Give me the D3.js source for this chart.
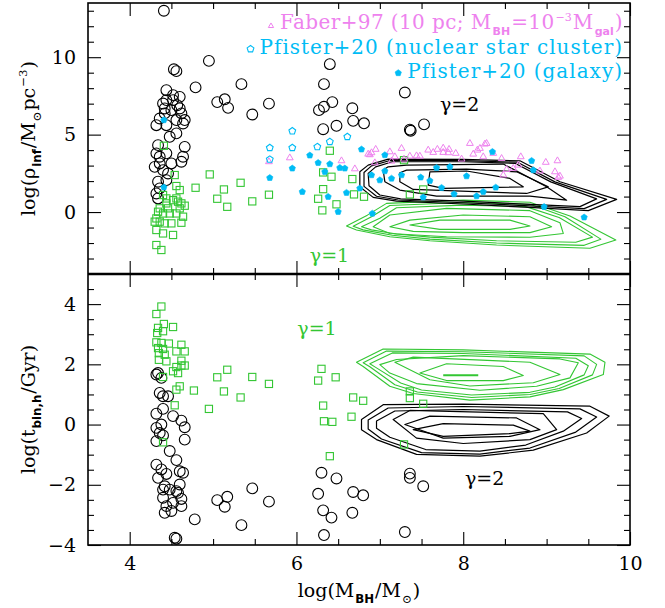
<!DOCTYPE html>
<html><head><meta charset="utf-8">
<script src="https://cdn.jsdelivr.net/npm/d3@7"></script>
<style>body{margin:0;background:#fff} svg{display:block} text{font-family:"DejaVu Serif",serif}</style>
</head><body><svg id="c" width="665" height="608"></svg>
<script>
// ---------------- DATA ----------------
const xTicksMajor = [4, 6, 8, 10];
const yTopTicksMajor = [0, 5, 10];
const yBotTicksMajor = [-4, -2, 0, 2, 4];

// top panel: log(rho_inf) vs log(M_BH)
const topCircles = [[4.41,13.0],[4.95,9.76],[4.53,9.22],[4.56,9.10],[4.79,8.05],[5.34,8.26],[6.40,9.55],[6.33,8.26],[5.05,7.10],[5.14,7.28],[5.18,6.73],[5.47,6.30],[5.67,7.00],[6.43,7.10],[6.27,6.58],[6.33,6.80],[6.67,6.70],[6.32,5.35],[6.48,5.57],[6.68,5.89],[6.81,5.73],[7.30,7.72],[7.37,5.25],[7.36,5.32],[7.53,5.66],
 [4.44,7.87],[4.52,7.55],[4.60,7.44],[4.44,7.23],[4.52,7.23],[4.40,7.01],[4.57,6.90],[4.42,6.69],[4.50,6.58],[4.60,6.69],[4.42,6.37],[4.62,6.37],[4.66,5.94],[4.56,5.94],[4.36,6.04],[4.32,5.61],[4.44,5.61],[4.64,5.72],[4.48,4.86],[4.56,5.08],[4.34,4.32],[4.66,4.21],[4.32,3.79],[4.36,3.57],[4.44,3.79],[4.64,3.57],[4.36,3.14],[4.50,3.14],[4.62,3.25],[4.30,2.92],[4.40,2.71],[4.46,2.49],[4.34,1.96],[4.44,2.06],[4.32,1.20],[4.34,0.88],[4.36,1.53]];
const topSquares = [[4.41,4.28],[4.54,2.39],[4.79,1.57],[4.56,1.68],[4.60,1.42],[4.40,1.10],[4.52,0.77],[4.58,0.67],[4.62,0.56],[4.66,0.41],[4.44,0.56],[4.36,0.24],[4.34,0.02],[4.40,-0.09],[4.48,-0.09],[4.56,-0.09],[4.64,-0.30],[4.32,-0.41],[4.36,-0.62],[4.30,-0.62],[4.42,-0.73],[4.50,-0.73],[4.62,-0.69],[4.32,-1.16],[4.40,-1.38],[4.52,-1.48],[4.32,-2.13],[4.38,-2.45],[4.44,0.88],[4.56,0.88],[4.60,0.24],[4.46,0.24],
 [4.96,2.43],[5.33,1.89],[5.13,1.46],[5.05,0.86],[5.17,0.34],[5.47,0.69],[5.67,1.12],[6.40,3.96],[6.32,2.56],[6.42,2.28],[6.67,2.13],[6.32,1.48],[6.26,0.86],[6.48,0.50],[6.31,0.11],[6.69,1.14],[6.81,0.99],[7.36,1.14],[7.52,1.46],[7.29,3.35]];
const faberTriangles = [[5.67,3.25],[5.92,3.50],[6.54,3.31],[6.70,2.79],[6.86,3.74],[6.90,3.83],[6.95,4.05],[6.94,3.18],[7.12,3.89],[7.18,3.57],[7.14,3.29],[7.26,4.11],[7.29,3.42],[7.36,3.61],[7.44,3.63],[7.48,3.61],[7.58,4.00],[7.64,3.85],[7.69,4.05],[7.76,4.13],[7.76,3.85],[7.83,4.05],[7.82,3.83],[7.91,3.79],[7.98,3.42],[8.08,4.43],[8.12,3.74],[8.17,4.00],[8.20,4.11],[8.26,4.39],[8.28,4.43],[8.24,3.57],[8.36,3.79],[8.46,3.46],[8.52,2.75],[8.48,2.39],[8.60,2.82],[8.66,3.03],[8.69,3.57],[8.92,2.65],[8.99,3.21],[9.13,3.31],[9.10,2.60],[9.16,2.32],[9.14,2.24],[6.88,3.70]];
const pfisterNSC = [[5.95,5.23],[5.68,4.15],[5.95,4.15],[6.25,4.21],[6.40,4.54],[6.61,4.86],[5.68,3.40]];
const pfisterGal = [[5.95,2.82],[5.68,2.21],[6.07,1.31],[6.16,3.66],[6.26,3.18],[6.40,3.10],[6.52,2.86],[6.58,2.82],[6.34,2.60],[6.38,0.99],[6.50,0.02],[6.60,1.25],[6.76,1.53],[6.78,4.05],[6.90,2.39],[6.91,-0.09],[7.00,2.06],[7.06,3.68],[7.06,2.65],[7.14,2.17],[7.26,2.39],[7.49,2.24],[7.60,2.02],[7.68,2.86],[7.84,2.92],[8.04,2.32],[7.74,1.57],[7.89,1.16],[8.16,1.03],[8.24,1.31],[8.39,1.59],[8.35,3.89],[8.82,3.31],[8.84,2.71],[8.97,0.34],[9.45,-0.34],[7.52,0.95],[4.41,5.94],[4.41,1.60]];

// contours (gamma=2 black, gamma=1 green), top panel
const topBlackContours = [
 [[6.76,2.60],[6.76,1.63],[6.92,0.95],[7.20,0.71],[8.00,0.52],[8.80,0.30],[9.50,0.09],[9.84,0.82],[9.16,1.96],[8.68,3.31],[8.00,3.40],[7.10,3.42],[6.86,3.03]],
 [[6.81,2.55],[6.81,1.66],[6.96,1.02],[7.22,0.78],[8.00,0.60],[8.80,0.40],[9.45,0.22],[9.72,0.82],[9.10,1.95],[8.65,3.22],[8.00,3.32],[7.12,3.33],[6.90,2.98]],
 [[6.86,2.50],[6.87,1.70],[7.00,1.10],[7.25,0.85],[8.00,0.70],[8.80,0.50],[9.40,0.35],[9.60,0.85],[9.05,1.95],[8.62,3.15],[8.00,3.25],[7.15,3.25],[6.95,2.92]],
 [[7.04,2.71],[7.06,1.96],[7.24,1.42],[7.68,1.03],[8.80,1.03],[9.24,0.77],[9.00,1.63],[8.48,3.10],[7.32,3.03],[7.10,2.92]],
 [[7.24,2.54],[7.24,1.96],[7.40,1.46],[8.76,1.20],[9.02,1.63],[8.64,2.60],[8.04,2.77],[7.32,2.71]],
 [[7.60,2.60],[7.58,1.74],[7.76,1.53],[8.72,1.63],[8.56,2.17],[8.04,2.65]]
];
const topGreenContours = [
 [[6.60,-0.90],[6.85,-0.20],[7.08,0.56],[8.00,0.77],[8.80,0.63],[9.28,-0.26],[9.83,-1.80],[9.52,-2.34],[8.40,-2.13],[7.60,-1.85],[7.12,-1.59],[6.72,-1.16]],
 [[6.68,-0.92],[6.90,-0.30],[7.12,0.42],[8.00,0.62],[8.80,0.50],[9.22,-0.30],[9.65,-1.75],[9.45,-2.15],[8.40,-2.00],[7.60,-1.75],[7.15,-1.50],[6.80,-1.15]],
 [[6.78,-0.95],[7.00,-0.40],[7.20,0.28],[8.00,0.45],[8.75,0.35],[9.15,-0.35],[9.55,-1.62],[9.35,-1.95],[8.40,-1.85],[7.60,-1.62],[7.20,-1.42],[6.90,-1.15]],
 [[6.92,-0.95],[7.12,-0.19],[7.80,0.24],[8.80,0.09],[9.16,-0.69],[9.20,-1.38],[8.80,-1.63],[7.80,-1.59],[7.12,-1.38]],
 [[7.12,-0.95],[7.36,-0.52],[8.00,-0.19],[8.80,-0.30],[9.06,-0.95],[8.80,-1.33],[8.00,-1.33],[7.40,-1.25]],
 [[7.36,-0.84],[7.72,-0.52],[8.56,-0.52],[8.80,-0.90],[8.56,-1.12],[7.72,-1.12]]
];

// bottom panel: log(t_bin,h) vs log(M_BH)
const botCircles = [[4.34,1.71],[4.32,1.66],[4.38,1.55],[4.36,1.05],[4.40,0.94],[4.46,0.94],[4.32,0.36],[4.40,0.52],[4.52,0.28],[4.62,0.13],[4.66,-0.09],[4.32,-0.11],[4.38,0.00],[4.36,-0.28],[4.40,-0.36],[4.32,-0.55],[4.66,-0.50],[4.48,-0.88],[4.32,-1.33],[4.38,-1.49],[4.56,-1.18],[4.60,-1.55],[4.64,-1.60],[4.34,-1.77],[4.44,-1.64],[4.42,-2.05],[4.60,-1.99],[4.40,-2.16],[4.48,-2.16],[4.56,-2.21],[4.58,-2.27],[4.40,-2.43],[4.62,-2.47],[4.44,-2.71],[4.52,-2.60],[4.62,-2.71],[4.42,-2.93],[4.50,-2.87],[4.54,-3.76],[4.56,-3.79],[4.78,-3.15],[5.05,-2.51],[5.17,-2.40],[5.14,-2.73],[5.47,-2.12],[5.67,-2.56],[5.34,-3.34],[6.30,-1.60],[6.48,-1.79],[6.26,-2.30],[6.68,-2.24],[6.80,-2.35],[6.32,-2.85],[6.42,-3.09],[6.67,-2.93],[6.33,-3.67],[7.36,-1.63],[7.36,-1.77],[7.52,-2.05],[7.30,-3.57]];
const botSquares = [[4.38,3.92],[4.32,3.67],[4.41,3.34],[4.34,3.21],[4.52,3.24],[4.40,3.10],[4.33,3.04],[4.32,2.73],[4.38,2.71],[4.47,2.69],[4.62,2.65],[4.34,2.54],[4.40,2.51],[4.56,2.43],[4.66,2.43],[4.35,2.37],[4.42,2.32],[4.62,2.12],[4.44,2.10],[4.35,2.15],[4.56,1.91],[4.62,1.96],[4.66,1.96],[4.52,1.77],[4.58,1.71],[4.40,1.58],[4.60,1.27],[4.56,1.16],[4.54,0.64],[4.40,-0.59],[4.77,1.13],[4.95,0.52],[5.05,1.57],[5.17,1.82],[5.13,1.10],[5.33,0.90],[5.47,1.58],[5.67,1.35],[6.30,1.85],[6.26,1.46],[6.47,1.57],[6.32,0.63],[6.33,0.11],[6.43,0.09],[6.40,-1.05],[6.68,0.90],[6.80,0.79],[6.66,0.26],[7.36,1.10],[7.36,0.88],[7.52,0.69],[7.29,-0.66]];
const botGreenContours = [
 [[6.72,2.07],[7.04,2.51],[8.00,2.48],[9.52,2.34],[9.70,2.07],[9.68,1.66],[9.20,1.16],[8.80,0.92],[8.08,0.81],[7.40,1.03],[7.12,1.27],[6.80,1.93]],
 [[6.80,2.05],[7.08,2.44],[8.00,2.42],[9.45,2.28],[9.60,2.00],[9.55,1.65],[9.15,1.20],[8.80,1.00],[8.10,0.90],[7.45,1.08],[7.18,1.32],[6.88,1.92]],
 [[6.88,2.02],[7.15,2.38],[8.00,2.36],[9.35,2.20],[9.50,1.95],[9.45,1.65],[9.10,1.25],[8.80,1.07],[8.10,0.98],[7.50,1.15],[7.25,1.38],[6.95,1.90]],
 [[7.00,1.99],[7.20,2.16],[8.00,2.29],[9.16,2.18],[9.38,2.05],[9.28,1.55],[8.88,1.27],[8.20,1.14],[7.44,1.36],[7.12,1.71]],
 [[7.18,2.07],[7.40,2.24],[8.80,2.07],[9.16,1.66],[8.84,1.39],[8.08,1.28],[7.60,1.49]],
 [[7.48,1.71],[7.80,2.02],[8.48,1.93],[8.72,1.63],[8.48,1.46],[7.80,1.46]]
];
const botGreenCore = [[7.76,1.64],[8.18,1.64]];
const botBlackContours = [
 [[6.78,0.17],[7.04,0.66],[8.00,0.68],[9.52,0.61],[9.75,0.28],[9.48,-0.28],[8.84,-0.85],[8.20,-1.05],[7.44,-0.99],[6.96,-0.50],[6.78,-0.17]],
 [[6.86,0.15],[7.10,0.55],[8.00,0.60],[9.40,0.52],[9.60,0.25],[9.35,-0.25],[8.80,-0.78],[8.20,-0.98],[7.50,-0.93],[7.02,-0.48],[6.86,-0.15]],
 [[6.96,0.12],[7.18,0.45],[8.00,0.50],[9.25,0.42],[9.42,0.20],[9.20,-0.22],[8.75,-0.68],[8.20,-0.88],[7.55,-0.83],[7.12,-0.42],[6.96,-0.12]],
 [[7.16,0.17],[7.36,0.47],[8.96,0.36],[9.12,-0.17],[8.80,-0.50],[8.00,-0.63],[7.44,-0.45]],
 [[7.30,0.00],[7.60,0.28],[8.64,0.22],[8.92,-0.17],[8.56,-0.39],[7.76,-0.45]],
 [[7.40,-0.17],[7.76,0.03],[8.60,-0.02],[8.80,-0.22],[8.56,-0.30],[7.76,-0.39]]
];

// ---------------- CHART ----------------
const GREEN = "#33c633", PINK = "#ee82ee", CYAN = "#00bcf5";
const L = 88, R = 630, T = 3, M = 274, B = 545;
const svg = d3.select("#c");
const x = d3.scaleLinear().domain([3.5, 10]).range([L, R]);
const yT = d3.scaleLinear().domain([-4, 13.5]).range([M, T]);
const yB = d3.scaleLinear().domain([-4, 5]).range([B, M]);

const pentagon = { draw(ctx, size) {
  const r = Math.sqrt(size / 2.378);
  for (let i = 0; i < 5; i++) {
    const a = -Math.PI / 2 + i * 2 * Math.PI / 5;
    if (i === 0) ctx.moveTo(r * Math.cos(a), r * Math.sin(a)); else ctx.lineTo(r * Math.cos(a), r * Math.sin(a));
  }
  ctx.closePath();
}};

function panel(y, top, bottom, yMajor, yMinorStep, showX) {
  const g = svg.append("g");
  const xMinor = d3.range(4, 10.001, 0.5).filter(v => !xTicksMajor.includes(v));
  const yd = y.domain();
  const yMinor = d3.range(Math.ceil(yd[0] / yMinorStep) * yMinorStep, yd[1] + 1e-6, yMinorStep).filter(v => !yMajor.includes(v) && v > yd[0] && v < yd[1]);
  const mk = (axisFn, scale, vals, size, pos, labels) => {
    const a = axisFn(scale).tickValues(vals).tickSize(-size).tickPadding(12);
    if (!labels) a.tickFormat("");
    else a.tickFormat(d => d < 0 ? "\u2212" + Math.abs(d) : d);
    const ag = g.append("g").attr("transform", pos).call(a);
    ag.select(".domain").remove();
    ag.selectAll("line").attr("stroke", "#000").attr("stroke-width", 1.1);
    ag.selectAll("text").attr("font-family", "DejaVu Serif").attr("font-size", 19).attr("fill", "#000");
  };
  mk(d3.axisBottom, x, xTicksMajor, 13, `translate(0,${bottom})`, showX);
  mk(d3.axisBottom, x, xMinor, 6, `translate(0,${bottom})`, false);
  mk(d3.axisTop, x, xTicksMajor, 13, `translate(0,${top})`, false);
  mk(d3.axisTop, x, xMinor, 6, `translate(0,${top})`, false);
  mk(d3.axisLeft, y, yMajor, 13, `translate(${L},0)`, true);
  mk(d3.axisLeft, y, yMinor, 6, `translate(${L},0)`, false);
  mk(d3.axisRight, y, yMajor, 13, `translate(${R},0)`, false);
  mk(d3.axisRight, y, yMinor, 6, `translate(${R},0)`, false);
  return g;
}

const contourLine = (y) => d3.line().x(d => x(d[0])).y(d => y(d[1])).curve(d3.curveLinearClosed);

function drawContours(y, sets, color, w) {
  svg.append("g").selectAll("path").data(sets).join("path")
    .attr("d", contourLine(y)).attr("fill", "none").attr("stroke", color).attr("stroke-width", w).attr("stroke-linejoin", "round");
}

// top panel
drawContours(yT, topGreenContours, GREEN, 1.1);
drawContours(yT, topBlackContours, "#000", 1.2);
svg.append("g").selectAll("circle").data(topCircles).join("circle")
  .attr("cx", d => x(d[0])).attr("cy", d => yT(d[1])).attr("r", 5.4)
  .attr("fill", "none").attr("stroke", "#000").attr("stroke-width", 1.1);
svg.append("g").selectAll("rect").data(topSquares).join("rect")
  .attr("x", d => x(d[0]) - 3.6).attr("y", d => yT(d[1]) - 3.6).attr("width", 7.2).attr("height", 7.2)
  .attr("fill", "none").attr("stroke", GREEN).attr("stroke-width", 1.1);
svg.append("g").selectAll("path").data(faberTriangles).join("path")
  .attr("transform", d => `translate(${x(d[0])},${yT(d[1])})`)
  .attr("d", d3.symbol(d3.symbolTriangle, 20)).attr("fill", "none").attr("stroke", PINK).attr("stroke-width", 1);
svg.append("g").selectAll("path").data(pfisterNSC).join("path")
  .attr("transform", d => `translate(${x(d[0])},${yT(d[1])})`)
  .attr("d", d3.symbol(pentagon, 30)).attr("fill", "none").attr("stroke", CYAN).attr("stroke-width", 1.1);
svg.append("g").selectAll("path").data(pfisterGal).join("path")
  .attr("transform", d => `translate(${x(d[0])},${yT(d[1])})`)
  .attr("d", d3.symbol(pentagon, 26)).attr("fill", CYAN).attr("stroke", CYAN).attr("stroke-width", 0.6);

// bottom panel
drawContours(yB, botGreenContours, GREEN, 1.1);
svg.append("path").attr("d", d3.line().x(d => x(d[0])).y(d => yB(d[1]))(botGreenCore))
  .attr("stroke", GREEN).attr("stroke-width", 2).attr("fill", "none");
drawContours(yB, botBlackContours, "#000", 1.2);
svg.append("g").selectAll("circle").data(botCircles).join("circle")
  .attr("cx", d => x(d[0])).attr("cy", d => yB(d[1])).attr("r", 5.4)
  .attr("fill", "none").attr("stroke", "#000").attr("stroke-width", 1.1);
svg.append("g").selectAll("rect").data(botSquares).join("rect")
  .attr("x", d => x(d[0]) - 3.6).attr("y", d => yB(d[1]) - 3.6).attr("width", 7.2).attr("height", 7.2)
  .attr("fill", "none").attr("stroke", GREEN).attr("stroke-width", 1.1);

// axes & frames
panel(yT, T, M, yTopTicksMajor, 1, false);
panel(yB, M, B, yBotTicksMajor, 0.5, true);
svg.append("rect").attr("x", L).attr("y", T).attr("width", R - L).attr("height", B - T)
  .attr("fill", "none").attr("stroke", "#000").attr("stroke-width", 1.6);
svg.append("line").attr("x1", L).attr("x2", R).attr("y1", M).attr("y2", M).attr("stroke", "#000").attr("stroke-width", 2.4);

// rich text helper
function rich(sel, parts, fs, small) {
  let shift = 0, prevSmall = false;
  const sfs = small || fs * 0.62;
  parts.forEach(p => {
    const isSmall = !!(p.sub || p.sup);
    const target = p.sub ? fs * 0.32 : p.sup ? -fs * 0.42 : 0;
    const t = sel.append("tspan").attr("dy", target - shift).text(p.t);
    if (isSmall || prevSmall) t.attr("dx", 1);
    if (isSmall) t.attr("font-size", sfs).attr("letter-spacing", 0);
    if (p.sans) t.attr("font-family", "DejaVu Sans").attr("font-weight", "bold");
    shift = target; prevSmall = isSmall;
  });
}

// axis titles
const yl1 = svg.append("text").attr("transform", `translate(35,${(T + M) / 2}) rotate(-90)`).attr("text-anchor", "middle").attr("font-size", 19);
rich(yl1, [{t: "log(\u03c1"}, {t: "inf", sub: true, sans: true}, {t: "/M"}, {t: "\u2299", sub: true}, {t: "pc"}, {t: "\u22123", sup: true}, {t: ")"}], 19);
const yl2 = svg.append("text").attr("transform", `translate(35,${(M + B) / 2}) rotate(-90)`).attr("text-anchor", "middle").attr("font-size", 19);
rich(yl2, [{t: "log(t"}, {t: "bin,h", sub: true, sans: true}, {t: "/Gyr)"}], 19);
const xl = svg.append("text").attr("x", (L + R) / 2).attr("y", 597).attr("text-anchor", "middle").attr("font-size", 19);
rich(xl, [{t: "log(M"}, {t: "BH", sub: true, sans: true}, {t: "/M"}, {t: "\u2299", sub: true}, {t: ")"}], 19);

// gamma labels
const gam = (sel, xv, yv, txt, color) => sel.append("text").attr("x", x(xv)).attr("y", yv).attr("font-size", 19).attr("fill", color).text(txt);
gam(svg, 7.72, yT(6.52), "\u03b3=2", "#000");
gam(svg, 6.16, yT(-3.23), "\u03b3=1", GREEN);
gam(svg, 6.01, yB(2.99), "\u03b3=1", GREEN);
gam(svg, 8.02, yB(-2.02), "\u03b3=2", "#000");

// legend
const legX = 623;
const lg1 = svg.append("text").attr("x", legX).attr("y", 29).attr("text-anchor", "end").attr("font-size", 20).attr("letter-spacing", 0.4).attr("fill", PINK);
rich(lg1, [{t: "Faber+97 (10 pc; M"}, {t: "BH", sub: true, sans: true}, {t: "=10"}, {t: "\u22123", sup: true}, {t: "M"}, {t: "gal", sub: true, sans: true}, {t: ")"}], 20, 11);
const lg2 = svg.append("text").attr("x", legX).attr("y", 54).attr("text-anchor", "end").attr("font-size", 20).attr("letter-spacing", 1).attr("fill", CYAN).text("Pfister+20 (nuclear star cluster)");
const lg3 = svg.append("text").attr("x", legX).attr("y", 78).attr("text-anchor", "end").attr("font-size", 20).attr("letter-spacing", 1).attr("fill", CYAN).text("Pfister+20 (galaxy)");
const b1 = lg1.node().getBBox(), b2 = lg2.node().getBBox(), b3 = lg3.node().getBBox();
svg.append("path").attr("transform", `translate(${b1.x - 9},26)`).attr("d", d3.symbol(d3.symbolTriangle, 12)).attr("fill", "none").attr("stroke", PINK).attr("stroke-width", 1);
svg.append("path").attr("transform", `translate(${b2.x - 9},49)`).attr("d", d3.symbol(pentagon, 30)).attr("fill", "none").attr("stroke", CYAN).attr("stroke-width", 1.1);
svg.append("path").attr("transform", `translate(${b3.x - 9},73)`).attr("d", d3.symbol(pentagon, 26)).attr("fill", CYAN).attr("stroke", CYAN).attr("stroke-width", 0.6);
</script></body></html>
